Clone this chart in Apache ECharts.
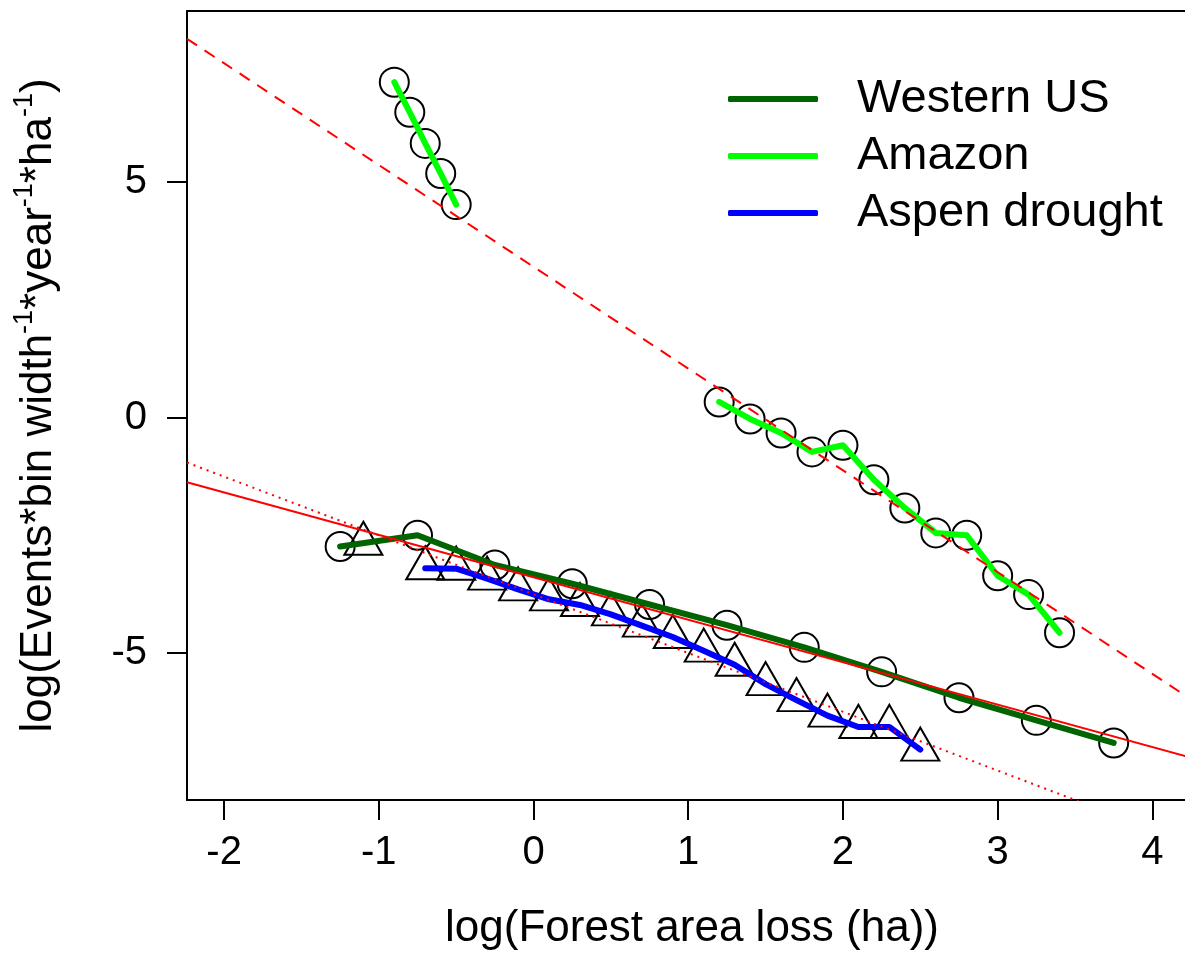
<!DOCTYPE html>
<html>
<head>
<meta charset="utf-8">
<script src="https://cdn.jsdelivr.net/npm/echarts@6/dist/echarts.min.js"></script>
<style>
html,body{margin:0;padding:0;background:#fff;}
#chart{width:1185px;height:959px;}
</style>
</head>
<body>
<div id="chart"></div>
<script>
// ---- data ----
const xTicks = [-2, -1, 0, 1, 2, 3, 4];
const yTicks = [-5, 0, 5];

const westernX = [-1.25, -0.75, -0.25, 0.25, 0.75, 1.25, 1.75, 2.25, 2.75, 3.25, 3.75];
const westernY = [-2.74, -2.50, -3.13, -3.53, -3.97, -4.41, -4.88, -5.40, -5.95, -6.43, -6.91];

const amazonSmallX = [-0.9, -0.8, -0.7, -0.6, -0.5];
const amazonSmallY = [7.12, 6.48, 5.82, 5.18, 4.52];

const amazonX = [1.2, 1.4, 1.6, 1.8, 2.0, 2.2, 2.4, 2.6, 2.8, 3.0, 3.2, 3.4];
const amazonY = [0.33, -0.03, -0.33, -0.73, -0.59, -1.32, -1.92, -2.45, -2.50, -3.36, -3.76, -4.57];

const aspenX = [-1.1, -0.7, -0.5, -0.3, -0.1, 0.1, 0.3, 0.5, 0.7, 0.9, 1.1, 1.3, 1.5, 1.7, 1.9, 2.1, 2.3, 2.5];
const aspenY = [-2.68, -3.20, -3.21, -3.42, -3.65, -3.86, -3.98, -4.18, -4.42, -4.66, -4.95, -5.25, -5.66, -6.00, -6.33, -6.57, -6.57, -7.05];
// the blue line starts at the second triangle
const aspenLineStart = 1;

// fitted power-law lines (two end points each)
const fitX = [-2.24, 4.29];
const amazonFitY = [8.04, -6.07];
const westernFitY = [-1.376, -7.257];
const aspenFitY = [-0.956, -9.106];

const seriesNames = ['Western US', 'Amazon', 'Aspen drought'];
const seriesColors = ['#006400', '#00FF00', '#0000FF'];

// ---- helpers ----
const zip = (xs, ys) => xs.map((x, i) => [x, ys[i]]);

const chart = echarts.init(document.getElementById('chart'), null, {renderer: 'canvas'});
const FONT = 'Liberation Sans, Arial, Helvetica, sans-serif';
const X_MIN = -2.24, X_MAX = 4.211;

const openMarker = {color: 'rgba(0,0,0,0)', borderColor: '#000', borderWidth: 2, opacity: 1};

function fitLine(ys, type) {
  return {
    type: 'line', data: zip(fitX, ys), showSymbol: false, silent: true, z: 4,
    lineStyle: {color: '#FF0000', width: 2, type: type, cap: 'butt'},
    clip: true, legendHoverLink: false
  };
}
function dataLine(name, xs, ys, color) {
  return {
    type: 'line', name: name, data: zip(xs, ys), showSymbol: false, z: 3,
    lineStyle: {color: color, width: 6, cap: 'round', join: 'round'},
    itemStyle: {color: color}
  };
}
function markers(name, xs, ys, symbol, size, offset) {
  return {
    type: 'scatter', name: name, data: zip(xs, ys), symbol: symbol, symbolSize: size,
    symbolOffset: offset || [0, 0], itemStyle: openMarker, z: 2,
    emphasis: {disabled: true}
  };
}

const option = {
  animation: false,
  backgroundColor: '#fff',
  grid: {left: 187, top: 11, right: 0, bottom: 159, show: false, containLabel: false},
  legend: {
    data: seriesNames.map((n, i) => ({name: n, icon: 'roundRect',
      itemStyle: {color: seriesColors[i], borderWidth: 0, opacity: 1}})),
    orient: 'vertical', left: 728, top: 74, padding: 0,
    itemWidth: 90, itemHeight: 6, itemGap: 7,
    selectedMode: false,
    itemStyle: {borderWidth: 0},
    lineStyle: {width: 0},
    textStyle: {fontFamily: FONT, fontSize: 47, color: '#000', lineHeight: 50, padding: [0, 0, 0, 34]}
  },
  xAxis: [{
    type: 'value', min: X_MIN, max: X_MAX, position: 'bottom',
    axisLine: {show: true, onZero: false, lineStyle: {color: '#000', width: 2}},
    axisTick: {show: true, length: 20, inside: false, lineStyle: {color: '#000', width: 2}, customValues: xTicks},
    axisLabel: {show: true, margin: 33, fontFamily: FONT, fontSize: 40, color: '#000', lineHeight: 40, customValues: xTicks, formatter: v => String(v)},
    splitLine: {show: false},
    name: 'log(Forest area loss (ha))', nameLocation: 'middle', nameGap: 107,
    nameTextStyle: {fontFamily: FONT, fontSize: 44, color: '#000', lineHeight: 44, padding: [0, 0, 0, 12]}
  }, {
    // top frame line of the plot box
    type: 'value', min: X_MIN, max: X_MAX, position: 'top',
    axisLine: {show: true, onZero: false, lineStyle: {color: '#000', width: 2}},
    axisTick: {show: false}, axisLabel: {show: false}, splitLine: {show: false}
  }],
  yAxis: {
    type: 'value', min: -8.121, max: 8.631,
    axisLine: {show: true, onZero: false, lineStyle: {color: '#000', width: 2}},
    axisTick: {show: true, length: 20, inside: false, lineStyle: {color: '#000', width: 2}, customValues: yTicks},
    axisLabel: {show: true, margin: 40, fontFamily: FONT, fontSize: 40, color: '#000', customValues: yTicks, formatter: v => String(v)},
    splitLine: {show: false},
    name: '{n|log(Events*bin width}{s|-1}{n|*year}{s|-1}{n|*ha}{s|-1}{n|)}',
    nameLocation: 'middle', nameRotate: 90, nameGap: 120,
    nameTextStyle: {
      fontFamily: FONT, color: '#000',
      rich: {
        n: {fontFamily: FONT, fontSize: 44, color: '#000', lineHeight: 56},
        s: {fontFamily: FONT, fontSize: 27, color: '#000', lineHeight: 56, verticalAlign: 'top'}
      }
    }
  },
  series: [
    // open markers (drawn first)
    markers('Western US', westernX, westernY, 'circle', 29),
    markers('Amazon', amazonSmallX, amazonSmallY, 'circle', 29),
    markers('Amazon', amazonX, amazonY, 'circle', 29),
    markers('Aspen drought', aspenX, aspenY, 'triangle', [38, 33], [0, -5.5]),
    // coloured lines
    dataLine('Western US', westernX, westernY, seriesColors[0]),
    dataLine('Amazon', amazonSmallX, amazonSmallY, seriesColors[1]),
    dataLine('Amazon', amazonX, amazonY, seriesColors[1]),
    dataLine('Aspen drought', aspenX.slice(aspenLineStart), aspenY.slice(aspenLineStart), seriesColors[2]),
    // fitted lines (red)
    fitLine(amazonFitY, [12, 9]),
    fitLine(westernFitY, 'solid'),
    fitLine(aspenFitY, [2, 5])
  ]
};
chart.setOption(option);
</script>
</body>
</html>
